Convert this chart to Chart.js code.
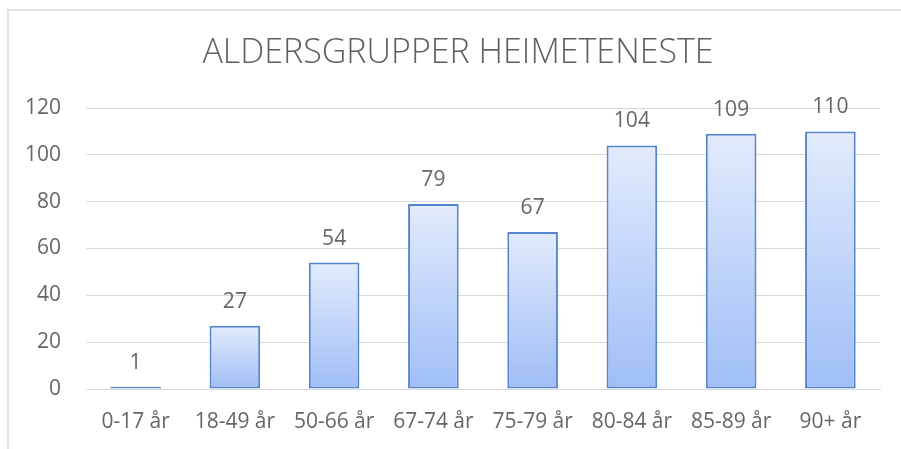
<!DOCTYPE html>
<html>
<head>
<meta charset="utf-8">
<title>Aldersgrupper heimeteneste</title>
<script src="https://cdn.jsdelivr.net/npm/chart.js@4.4.0/dist/chart.umd.min.js"></script>
<style>
  html, body { margin: 0; padding: 0; background: #fff; }
  #wrap { position: relative; width: 901px; height: 449px; overflow: hidden; }
  #frame { position: absolute; left: 7px; top: 9px; right: -10px; bottom: -10px;
           border-top: 2px solid #e3e3e3; border-left: 2px solid #e3e3e3; }
  #chart { position: absolute; left: 0; top: 0; }
</style>
</head>
<body>
<div id="wrap">
  <div id="frame"></div>
  <canvas id="chart" width="901" height="449"></canvas>
</div>
<script>
// age groups and number of users per group
const categories = ["0-17 år", "18-49 år", "50-66 år", "67-74 år", "75-79 år", "80-84 år", "85-89 år", "90+ år"];
const counts = [1, 27, 54, 79, 67, 104, 109, 110];
const chartTitle = "ALDERSGRUPPER HEIMETENESTE";

const textGray = "#666666";
const fontFamily = "'Open Sans', 'DejaVu Sans', sans-serif";

// each bar gets its own light-to-blue gradient, like the Excel fill
function barGradient(ctx) {
  const chart = ctx.chart;
  const y = chart.scales.y;
  if (ctx.type !== "data" || !y) return "#c3d6f9";
  const top = y.getPixelForValue(ctx.raw);
  const base = y.getPixelForValue(0);
  if (!isFinite(top) || !isFinite(base) || top === base) return "#c3d6f9";
  const g = chart.ctx.createLinearGradient(0, top, 0, base);
  g.addColorStop(0, "#e3ebfc");
  g.addColorStop(1, "#9fbef7");
  return g;
}

// value labels above bars (no datalabels plugin available offline)
const valueLabels = {
  id: "valueLabels",
  afterDatasetsDraw(chart) {
    const c = chart.ctx;
    const meta = chart.getDatasetMeta(0);
    c.save();
    c.font = "21px " + fontFamily;
    c.fillStyle = textGray;
    c.textAlign = "center";
    c.textBaseline = "alphabetic";
    meta.data.forEach((bar, i) => {
      c.fillText(String(counts[i]), bar.x, bar.y - 18);
    });
    c.restore();
  }
};

// title centred on the whole frame, not just the padded layout box
const frameTitle = {
  id: "frameTitle",
  afterDraw(chart) {
    const c = chart.ctx;
    c.save();
    c.font = "300 34px " + fontFamily;
    c.fillStyle = "#5f5f5f";
    c.textAlign = "center";
    c.textBaseline = "middle";
    c.fillText(chartTitle, 458, 53);
    c.restore();
  }
};

new Chart(document.getElementById("chart"), {
  type: "bar",
  data: {
    labels: categories,
    datasets: [{
      data: counts,
      backgroundColor: barGradient,
      borderColor: "#5585cd",
      borderWidth: 2,
      borderSkipped: false,
      categoryPercentage: 1,
      barPercentage: 0.51
    }]
  },
  options: {
    responsive: false,
    animation: false,
    layout: { padding: { left: 0, right: 21, top: 108, bottom: 0 } },
    plugins: {
      legend: { display: false },
      tooltip: { enabled: false },
      title: { display: false }
    },
    scales: {
      x: {
        grid: { display: false, drawTicks: false },
        border: { display: true, color: "#d9d9d9", width: 1 },
        ticks: { color: textGray, font: { family: fontFamily, size: 21 }, padding: 20, maxRotation: 0 },
        afterFit(scale) { scale.height = 60; }
      },
      y: {
        min: 0,
        max: 120,
        ticks: { stepSize: 20, color: textGray, font: { family: fontFamily, size: 21 }, padding: 25 },
        grid: { color: "#d9d9d9", lineWidth: 1, drawTicks: false },
        border: { display: false },
        afterFit(scale) { scale.width = 86; }
      }
    }
  },
  plugins: [valueLabels, frameTitle]
});
</script>
</body>
</html>
